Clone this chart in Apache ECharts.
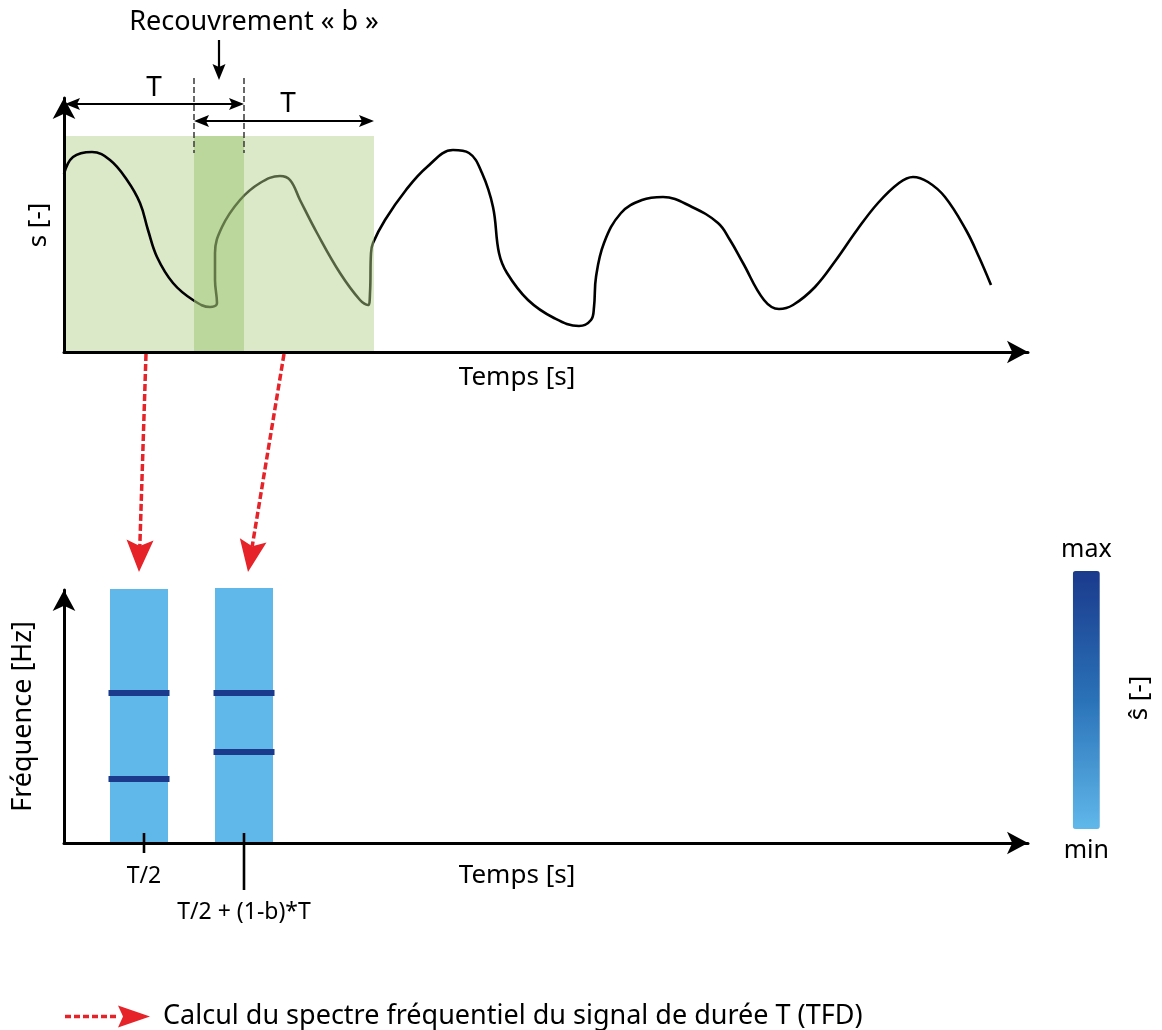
<!DOCTYPE html>
<html>
<head>
<meta charset="utf-8">
<script src="https://cdn.jsdelivr.net/npm/echarts@6/dist/echarts.min.js"></script>
<style>html,body{margin:0;padding:0;background:#fff}#c{width:1162px;height:1030px}</style>
</head>
<body>
<div id="c"></div>
<script>
// ================= DATA =================
// signal s(t) of the top panel (time in s, amplitude in arbitrary units)
const signalTime = [0, 0.45, 1.4, 2.3, 3.15, 3.8, 4.2, 4.65, 5.45, 6.45, 7.3, 7.65, 7.55, 7.55, 7.9, 8.8, 9.8, 10.8, 11.3, 11.8, 12.65, 13.8, 14.8, 15.2, 15.3, 15.35, 15.45, 16.05, 17.1, 18.15, 19.45, 20.25, 20.9, 21.45, 21.75, 22.15, 23.2, 24.5, 25.75, 26.35, 26.5, 26.6, 27.0, 27.85, 28.9, 29.95, 31.4, 32.7, 33.3, 33.95, 35.0, 35.75, 36.45, 37.55, 38.6, 39.65, 40.7, 41.75, 42.45, 43.2, 44.05, 45.1, 45.75, 46.35];
const signalValue = [8.9, 9.75, 10.0, 9.6, 8.6, 7.45, 6.1, 4.75, 3.45, 2.6, 2.25, 2.45, 3.6, 4.95, 6.25, 7.6, 8.45, 8.8, 8.6, 7.6, 5.95, 3.95, 2.6, 2.35, 2.95, 4.95, 5.45, 6.6, 8.1, 9.25, 10.1, 9.95, 8.95, 7.25, 4.95, 3.95, 2.6, 1.7, 1.3, 1.6, 2.25, 3.75, 5.45, 6.95, 7.6, 7.75, 7.25, 6.45, 5.6, 4.45, 2.6, 2.15, 2.35, 3.25, 4.6, 6.1, 7.45, 8.45, 8.75, 8.5, 7.75, 6.1, 4.75, 3.35];

// analysis windows (duration T, overlap b)
const windowStarts = [0, 6.5];
const windowLength = 9;        // T
const windowLevel = 10.8;      // height of the shaded windows

// spectrogram (bottom panel): time in s, frequency in Hz
const spectrumBarStart = [2.3, 7.55];
const spectrumBarEnd = [5.2, 10.45];
const spectrumBarTop = [104.5, 104.9];
const spectrumBarLevel = [0, 0];            // ŝ level of the background (min)
const peakFreqsWindow1 = [61.7, 26.3];
const peakFreqsWindow2 = [61.7, 37.4];
const peakLevel = 1;                         // ŝ level of the peaks (max)

const tickTimes = [4.0, 9.0];
const tickLabels = ['T/2', 'T/2 + (1-b)*T'];

// TFD arrows: from window in top panel to spectrum slice in bottom panel
const arrowFromTime = [4.1, 11.0];
const arrowToTime = [3.75, 9.2];
const arrowToFreq = [111.5, 111.5];

const legendLabel = 'Calcul du spectre fréquentiel du signal de durée T (TFD)';

// ================= CHART =================
const FONT = '"Noto Sans", "DejaVu Sans", sans-serif';
const RED = '#e52329';
const chart = echarts.init(document.getElementById('c'));

function arrowHead(tip, dir, len, wid, notch, color) {
  const dx = dir[0], dy = dir[1];
  const nx = -dy, ny = dx;
  const bx = tip[0] - dx * len, by = tip[1] - dy * len;
  return {
    type: 'polygon',
    shape: { points: [
      [tip[0], tip[1]],
      [bx + nx * wid / 2, by + ny * wid / 2],
      [tip[0] - dx * (len - notch), tip[1] - dy * (len - notch)],
      [bx - nx * wid / 2, by - ny * wid / 2]
    ] },
    style: { fill: color }
  };
}
function txt(text, x, y, size, extra) {
  return { type: 'text', style: Object.assign({ text: text, x: x, y: y, fill: '#000', fontSize: size, fontFamily: FONT, align: 'center', verticalAlign: 'middle' }, extra || {}) };
}

const signalData = signalTime.map((t, i) => [t, signalValue[i]]);

const spectrumData = [];
spectrumBarStart.forEach((s, i) => spectrumData.push([s, spectrumBarEnd[i], 0, spectrumBarTop[i], spectrumBarLevel[i]]));
[peakFreqsWindow1, peakFreqsWindow2].forEach((freqs, i) => {
  freqs.forEach(f => spectrumData.push([spectrumBarStart[i], spectrumBarEnd[i], f, f, peakLevel]));
});

const tickData = tickTimes.map((t, i) => [t, 0, i]);
const arrowData = arrowFromTime.map((t, i) => [arrowToTime[i], arrowToFreq[i], t]);

const hiddenAxisBits = { axisTick: { show: false }, axisLabel: { show: false }, splitLine: { show: false } };
const axisLineStyle = { show: true, symbol: ['none', 'arrow'], symbolSize: [17, 21], lineStyle: { color: '#000', width: 3 } };

const option = {
  animation: false,
  backgroundColor: '#fff',
  grid: [
    { left: 64, width: 964, top: 98, height: 254, outerBoundsMode: 'none', containLabel: false },
    { left: 64, width: 964, top: 590, height: 253, outerBoundsMode: 'none', containLabel: false }
  ],
  xAxis: [
    Object.assign({ type: 'value', gridIndex: 0, min: 0, max: 48.2, z: 10, axisLine: axisLineStyle,
      name: 'Temps [s]', nameLocation: 'middle', nameGap: 13,
      nameTextStyle: { fontSize: 26, fontFamily: FONT, color: '#000', padding: [0, 58, 0, 0] } }, hiddenAxisBits),
    Object.assign({ type: 'value', gridIndex: 1, min: 0, max: 48.2, z: 10, axisLine: axisLineStyle,
      name: 'Temps [s]', nameLocation: 'middle', nameGap: 20,
      nameTextStyle: { fontSize: 26, fontFamily: FONT, color: '#000', padding: [0, 58, 0, 0] } }, hiddenAxisBits)
  ],
  yAxis: [
    Object.assign({ type: 'value', gridIndex: 0, min: 0, max: 12.7, z: 10, axisLine: axisLineStyle,
      name: 's [-]', nameLocation: 'middle', nameGap: 12,
      nameTextStyle: { fontSize: 26, fontFamily: FONT, color: '#000' } }, hiddenAxisBits),
    Object.assign({ type: 'value', gridIndex: 1, min: 0, max: 104.1, z: 10, axisLine: axisLineStyle,
      name: 'Fréquence [Hz]', nameLocation: 'middle', nameGap: 27,
      nameTextStyle: { fontSize: 27, fontFamily: FONT, color: '#000' } }, hiddenAxisBits)
  ],
  visualMap: {
    type: 'continuous',
    seriesIndex: 4,
    dimension: 4,
    min: 0, max: 1,
    calculable: false,
    orient: 'vertical',
    left: 1046, top: 522,
    itemWidth: 27, itemHeight: 258,
    text: ['max', 'min'],
    textGap: 9,
    textStyle: { fontSize: 25, fontFamily: FONT, color: '#000' },
    inRange: { color: ['#60b8ea', '#2a72b8', '#1b3a8c'] }
  },
  legend: {
    show: true,
    selectedMode: false,
    left: 60, top: 998,
    itemWidth: 93, itemHeight: 22,
    textStyle: { fontSize: 27, fontFamily: FONT, color: '#000' },
    data: [{ name: legendLabel,
      icon: 'path://M0 9.3h6v3.4h-6z M9 9.3h6v3.4h-6z M18 9.3h6v3.4h-6z M27 9.3h6v3.4h-6z M36 9.3h6v3.4h-6z M45 9.3h6v3.4h-6z M53 0 L85 11 L53 22 L58 11 Z M92.9 10.9 L93 11 L92.9 11.1 Z' }]
  },
  graphic: [
    { type: 'text', x: 1140, y: 698, rotation: Math.PI / 2,
      style: { text: 'ŝ [-]', fontSize: 26, fontFamily: FONT, fill: '#000', align: 'center', verticalAlign: 'middle' } }
  ],
  series: [
    // 0: first window (under the signal)
    {
      type: 'custom', xAxisIndex: 0, yAxisIndex: 0, z: 1, silent: true,
      data: [[windowStarts[0], windowLevel]],
      renderItem: function (params, api) {
        const a = api.coord([windowStarts[0], 0]);
        const b = api.coord([windowStarts[0] + windowLength, windowLevel]);
        return { type: 'rect', shape: { x: a[0], y: b[1], width: b[0] - a[0], height: a[1] - b[1] }, style: { fill: '#dce9c8' } };
      }
    },
    // 1: signal
    {
      type: 'line', xAxisIndex: 0, yAxisIndex: 0, z: 2, silent: true,
      data: signalData, smooth: 0.4, smoothConstraint: false, symbol: 'none',
      lineStyle: { color: '#000', width: 2.6 }
    },
    // 2: second window (over the signal, translucent) and darker overlap
    {
      type: 'custom', xAxisIndex: 0, yAxisIndex: 0, z: 3, silent: true,
      data: [[windowStarts[1], windowLevel]],
      renderItem: function (params, api) {
        const a = api.coord([windowStarts[1], 0]);
        const b = api.coord([windowStarts[1] + windowLength, windowLevel]);
        const o = api.coord([windowStarts[0] + windowLength, windowLevel]);
        return { type: 'group', children: [
          { type: 'rect', shape: { x: a[0], y: b[1], width: b[0] - a[0], height: a[1] - b[1] }, style: { fill: 'rgba(181,208,138,0.47)' } },
          { type: 'rect', shape: { x: a[0], y: b[1], width: o[0] - a[0], height: a[1] - b[1] }, style: { fill: 'rgba(140,196,98,0.22)' } }
        ] };
      }
    },
    // 3: annotations of the windows (T, overlap b)
    {
      type: 'custom', xAxisIndex: 0, yAxisIndex: 0, z: 12, silent: true,
      data: [[0, 0]],
      renderItem: function (params, api) {
        const w1a = api.coord([windowStarts[0], windowLevel]);
        const w1b = api.coord([windowStarts[0] + windowLength, windowLevel]);
        const w2a = api.coord([windowStarts[1], windowLevel]);
        const w2b = api.coord([windowStarts[1] + windowLength, windowLevel]);
        const top = w1a[1];
        const y1 = top - 32, y2 = top - 15;
        const ah = 15, aw = 12, an = 3;
        const children = [];
        // dashed boundaries of the overlap
        [w2a[0], w1b[0]].forEach(x => children.push({ type: 'line', shape: { x1: x, y1: top - 58, x2: x, y2: top + 17 }, style: { stroke: '#444', lineWidth: 1.6, lineDash: [6, 3] } }));
        // T arrow 1
        children.push({ type: 'line', shape: { x1: w1a[0] + ah - an, y1: y1, x2: w1b[0] - ah + an, y2: y1 }, style: { stroke: '#000', lineWidth: 2.2 } });
        children.push(arrowHead([w1a[0] + 1, y1], [-1, 0], ah, aw, an, '#000'));
        children.push(arrowHead([w1b[0], y1], [1, 0], ah, aw, an, '#000'));
        children.push(txt('T', (w1a[0] + w1b[0]) / 2, y1 - 16, 28));
        // T arrow 2
        children.push({ type: 'line', shape: { x1: w2a[0] + ah - an, y1: y2, x2: w2b[0] - ah + an, y2: y2 }, style: { stroke: '#000', lineWidth: 2.2 } });
        children.push(arrowHead([w2a[0], y2], [-1, 0], ah, aw, an, '#000'));
        children.push(arrowHead([w2b[0], y2], [1, 0], ah, aw, an, '#000'));
        children.push(txt('T', (w2a[0] + w2b[0]) / 2 + 4, y2 - 17, 28));
        // overlap arrow + text
        const ox = (w2a[0] + w1b[0]) / 2;
        children.push({ type: 'line', shape: { x1: ox, y1: top - 96, x2: ox, y2: top - 68 }, style: { stroke: '#000', lineWidth: 2.2 } });
        children.push(arrowHead([ox, top - 56], [0, 1], 16, 13, 3, '#000'));
        children.push(txt('Recouvrement « b »', ox + 35, top - 114, 27));
        return { type: 'group', children: children };
      }
    },
    // 4: spectrogram slices (coloured via the visualMap)
    {
      type: 'custom', xAxisIndex: 1, yAxisIndex: 1, z: 3, silent: true,
      data: spectrumData,
      encode: { x: [0, 1], y: [2, 3] },
      renderItem: function (params, api) {
        const x0 = api.value(0), x1 = api.value(1), y0 = api.value(2), y1 = api.value(3);
        const p0 = api.coord([x0, y0]), p1 = api.coord([x1, y1]);
        const color = api.visual('color');
        if (y0 === y1) {
          return { type: 'rect', shape: { x: p0[0] - 1.5, y: p0[1] - 3, width: p1[0] - p0[0] + 3, height: 6 }, style: { fill: color } };
        }
        return { type: 'rect', shape: { x: p0[0], y: p1[1], width: p1[0] - p0[0], height: p0[1] - p1[1] }, style: { fill: color } };
      }
    },
    // 5: time stamps of the slices
    {
      type: 'custom', xAxisIndex: 1, yAxisIndex: 1, z: 12, silent: true,
      data: tickData,
      renderItem: function (params, api) {
        const i = api.value(2);
        const p = api.coord([api.value(0), api.value(1)]);
        const below = i === 0 ? 10 : 47;
        const lab = i === 0 ? 33 : 69;
        return { type: 'group', children: [
          { type: 'line', shape: { x1: p[0], y1: p[1] - 10, x2: p[0], y2: p[1] + below }, style: { stroke: '#000', lineWidth: 2.6 } },
          txt(tickLabels[i], p[0], p[1] + lab, 23)
        ] };
      }
    },
    // 6: TFD arrows from the windows to the spectrum slices
    {
      type: 'custom', name: legendLabel, xAxisIndex: 1, yAxisIndex: 1, z: 15, silent: true,
      itemStyle: { color: RED },
      data: arrowData,
      renderItem: function (params, api) {
        const end = api.coord([api.value(0), api.value(1)]);
        const start = chart.convertToPixel({ gridIndex: 0 }, [api.value(2), 0]);
        const vx = end[0] - start[0], vy = end[1] - start[1];
        const L = Math.sqrt(vx * vx + vy * vy);
        const dir = [vx / L, vy / L];
        const hl = 32, hw = 27, hn = 6;
        return { type: 'group', children: [
          { type: 'line', shape: { x1: start[0], y1: start[1] + 2, x2: end[0] - dir[0] * (hl - hn), y2: end[1] - dir[1] * (hl - hn) },
            style: { stroke: RED, lineWidth: 3.5, lineDash: [7, 3] } },
          arrowHead(end, dir, hl, hw, hn, RED)
        ] };
      }
    }
  ]
};
chart.setOption(option);
</script>
</body>
</html>
